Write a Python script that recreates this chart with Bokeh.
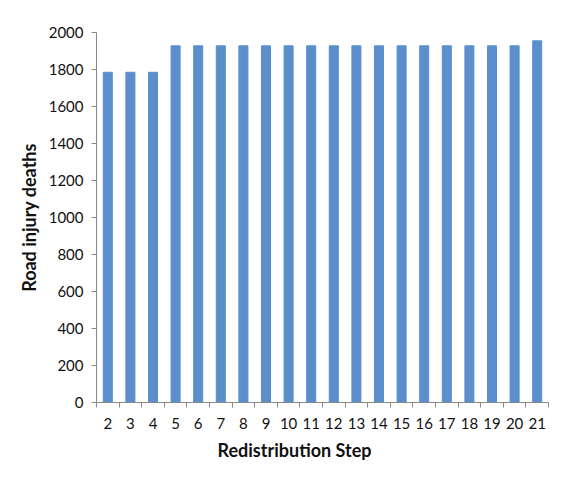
from bokeh.plotting import figure
from bokeh.models import FixedTicker, Range1d, Title
from bokeh.embed import file_html
from bokeh.resources import INLINE

# Road injury deaths after each redistribution step
steps = [2, 3, 4, 5, 6, 7, 8, 9, 10, 11, 12, 13, 14, 15, 16, 17, 18, 19, 20, 21]
deaths = [1785, 1785, 1785, 1928, 1928, 1928, 1928, 1928, 1928, 1928,
          1928, 1928, 1928, 1928, 1928, 1928, 1928, 1928, 1928, 1955]
y_ticks = [0, 200, 400, 600, 800, 1000, 1200, 1400, 1600, 1800, 2000]

BAR = "#5A8FCB"
AXIS = "#888888"
TEXT = "#111111"
FONT = "Lato"

x0, x1 = steps[0] - 0.5, steps[-1] + 0.5
p = figure(width=572, height=477, output_backend="svg", toolbar_location=None,
           x_range=Range1d(x0, x1), y_range=Range1d(0, 2000),
           min_border_left=96, min_border_right=24,
           min_border_top=32, min_border_bottom=75)

p.vbar(x=steps, top=deaths, width=0.4, color=BAR)

p.outline_line_color = None
p.xgrid.visible = False
p.ygrid.visible = False

# x axis: labels at bar centres, short tick marks between categories
xa = p.xaxis[0]
xa.ticker = FixedTicker(ticks=steps,
                        minor_ticks=[s - 0.5 for s in steps] + [x1])
xa.major_tick_out = 0
xa.major_tick_in = 0
xa.minor_tick_out = 5
xa.minor_tick_in = 0
xa.minor_tick_line_color = AXIS
xa.axis_line_color = AXIS
xa.major_label_text_font = FONT
xa.major_label_text_font_size = "15px"
xa.major_label_text_color = TEXT
xa.major_label_standoff = 10

ya = p.yaxis[0]
ya.ticker = FixedTicker(ticks=y_ticks)
ya.major_tick_out = 5
ya.major_tick_in = 0
ya.minor_tick_out = 0
ya.minor_tick_in = 0
ya.major_tick_line_color = AXIS
ya.axis_line_color = AXIS
ya.major_label_text_font = FONT
ya.major_label_text_font_size = "15px"
ya.major_label_text_color = TEXT
ya.major_label_standoff = 8
ya.axis_label = "Road injury deaths"
ya.axis_label_text_font = FONT
ya.axis_label_text_font_style = "bold"
ya.axis_label_text_font_size = "18px"
ya.axis_label_text_color = TEXT
ya.axis_label_standoff = 6

# x-axis title, starting a little left of the plot area's centre
p.add_layout(Title(text="Redistribution Step", align="left", offset=121,
                   standoff=11, text_font=FONT, text_font_style="bold",
                   text_font_size="18px", text_color=TEXT), "below")

open("out.html", "w").write(file_html(p, INLINE))
